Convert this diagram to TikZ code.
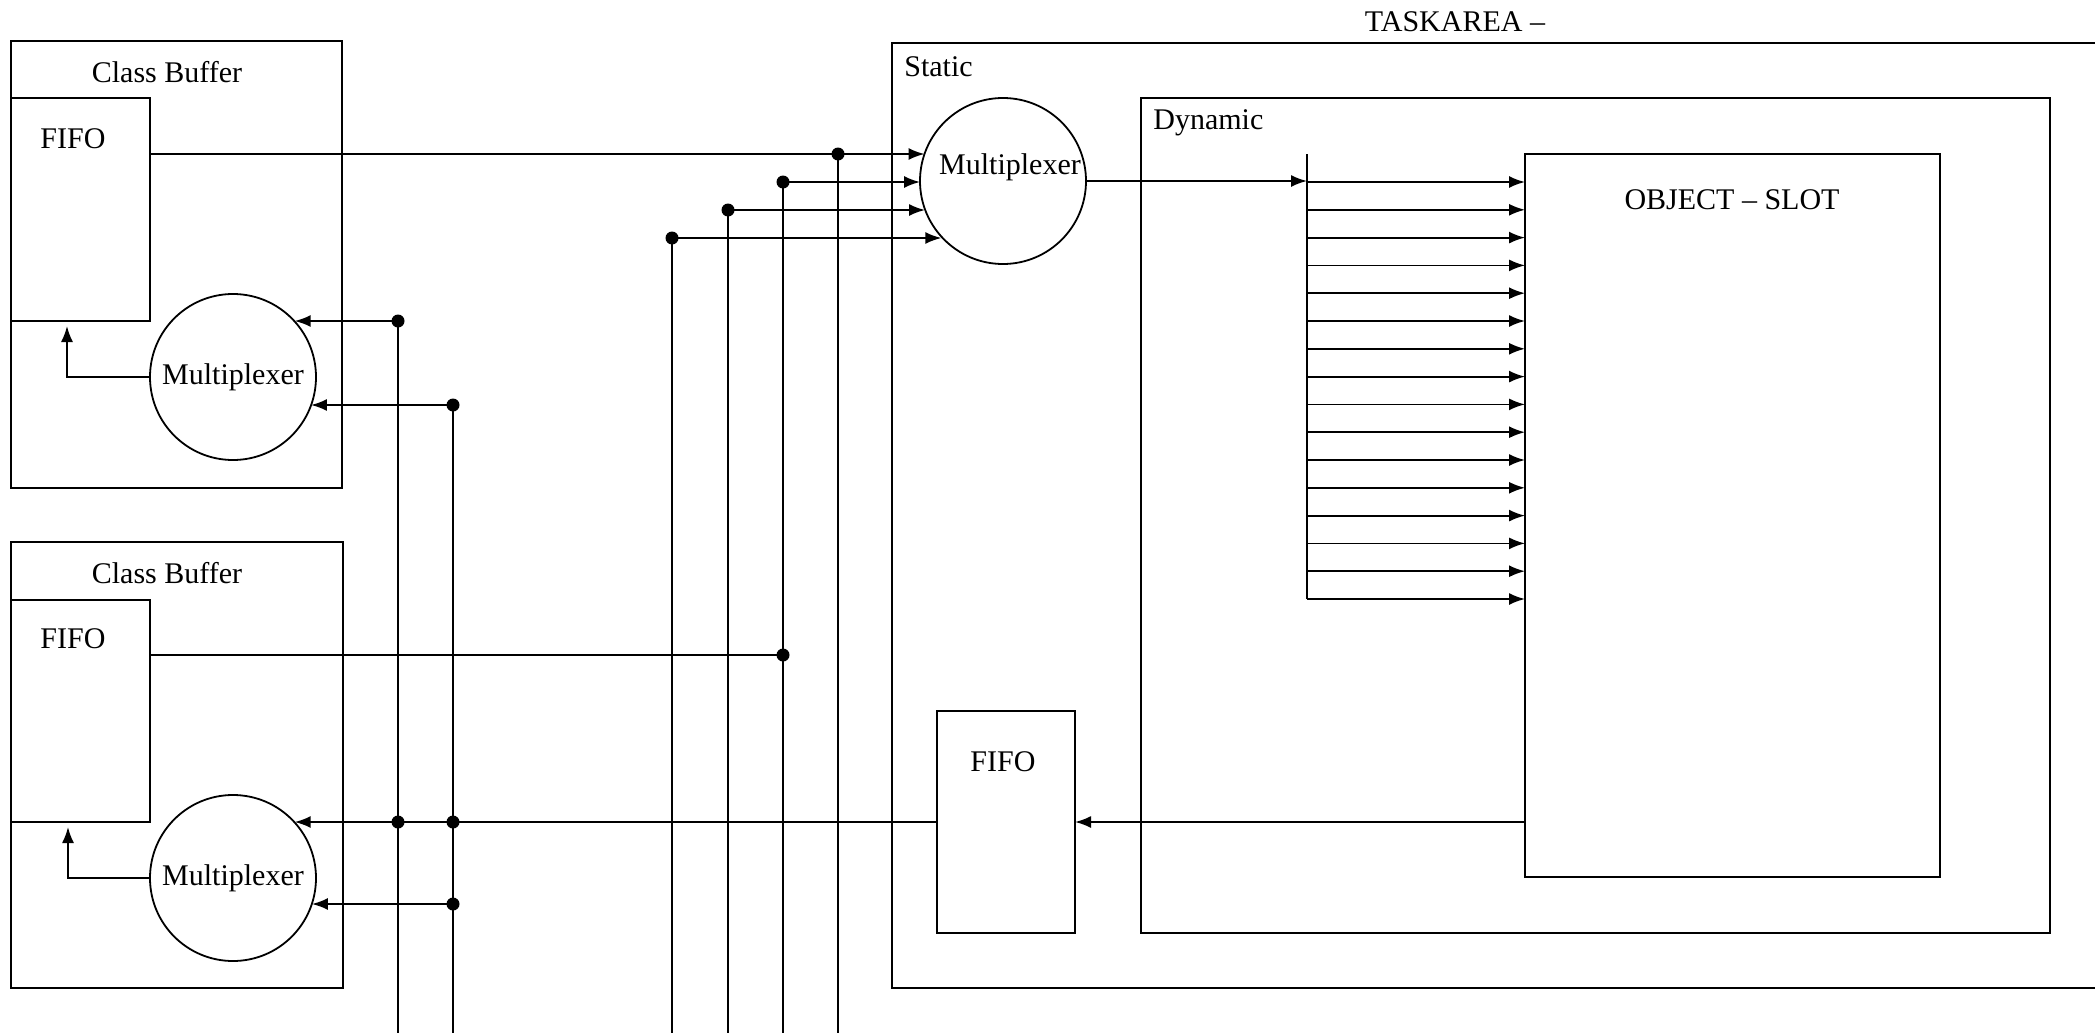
\documentclass[tikz,border=0pt]{standalone}
\usepackage{fontspec}
\setmainfont{Liberation Serif}
\usetikzlibrary{arrows.meta}
\begin{document}
\begin{tikzpicture}[x=0.5pt,y=-0.5pt,
  every node/.style={font=\fontsize{15pt}{18pt}\selectfont},
  box/.style={draw,line width=0.9pt,rectangle,anchor=north west,inner sep=0pt,outer sep=0pt},
  muxc/.style={draw,line width=0.9pt,circle,minimum size=83pt,inner sep=0pt,outer sep=0pt},
  dotn/.style={circle,fill=black,inner sep=0pt,minimum size=6.5pt},
  ln/.style={line width=0.9pt},
  arr/.style={line width=0.9pt,-{Latex[length=8pt,width=6pt]}},
  txt/.style={inner sep=0pt}]
\useasboundingbox[fill=white] (0,0) rectangle (2095,1033);
% boxes
\node[box,minimum width=165.5pt,minimum height=223.5pt] (cb1) at (11,41) {};
\node[box,minimum width=69.5pt,minimum height=111.5pt] (fifo1) at (11,98) {};
\node[muxc] (mux1) at (233,377) {Multiplexer};
\node[box,minimum width=166pt,minimum height=223pt] (cb2) at (11,542) {};
\node[box,minimum width=69.5pt,minimum height=111pt] (fifo2) at (11,600) {};
\node[muxc] (mux2) at (233,878) {Multiplexer};
\node[box,minimum width=610pt,minimum height=472.5pt] (static) at (892,43) {};
\node[box,minimum width=454.5pt,minimum height=417.5pt] (dynamic) at (1141,98) {};
\node[box,minimum width=207.5pt,minimum height=361.5pt] (slot) at (1525,154) {};
\node[box,minimum width=69pt,minimum height=111pt] (sfifo) at (937,711) {};
\node[muxc] (smux) at (1003,181) {};
% labels
\node[txt] (lcb1) at (167,72) {Class Buffer};
\node[txt] (lf1) at (73,139) {FIFO};
\node[txt] (lcb2) at (167,573) {Class Buffer};
\node[txt] (lf2) at (73,639) {FIFO};
\node[txt] (ltask) at (1455,22) {TASKAREA –};
\node[txt,anchor=west] (lstatic) at (904,67) {Static};
\node[txt,anchor=west] (ldyn) at (1153,123) {Dynamic};
\node[txt] (lslot) at (1732,200) {OBJECT – SLOT};
\node[txt] (lsf) at (1003,762) {FIFO};
\node[txt] (lsmux) at (1010,167) {Multiplexer};
% junction dots
\node[dotn] (d1) at (838,154) {};
\node[dotn] (d2) at (783,182) {};
\node[dotn] (d3) at (728,210) {};
\node[dotn] (d4) at (672,238) {};
\node[dotn] (d5) at (783,655) {};
\node[dotn] (a1) at (398,321) {};
\node[dotn] (b1) at (453,405) {};
\node[dotn] (a2) at (398,822) {};
\node[dotn] (b2) at (453,822) {};
\node[dotn] (b3) at (453,904) {};
\coordinate (bot) at (0,1045);
\coordinate (o1) at (67,326);
\coordinate (o2) at (68,827);
\coordinate (busT) at (1307,154);
\coordinate (busB) at (1307,599);
% bus lines
\foreach \n in {d1,d2,d3,d4,a1,b1}{\draw[ln] (\n.center) -- (\n.center |- bot);}
% inputs to static multiplexer
\draw[arr] (fifo1.east |- d1) -- (d1 -| smux.161);
\draw[arr] (d2.center) -- (d2 -| smux.181);
\draw[arr] (d3.center) -- (d3 -| smux.200);
\draw[arr] (d4.center) -- (d4 -| smux.222);
% FIFO 2 output
\draw[ln] (fifo2.east |- d5) -- (d5.center);
% inputs to class-buffer multiplexers
\draw[arr] (a1.center) -- (a1 -| mux1.42);
\draw[arr] (b1.center) -- (b1 -| mux1.-20);
\draw[arr] (sfifo.west |- a2) -- (a2 -| mux2.42);
\draw[arr] (b3.center) -- (b3 -| mux2.-18);
% multiplexer outputs to FIFOs
\draw[arr] (mux1.west) -| (o1);
\draw[arr] (mux2.west) -| (o2);
% static multiplexer to bus
\draw[arr] (smux.east) -- (smux.east -| busT);
\draw[ln] (busT) -- (busB);
\foreach \k in {0,...,15}{
  \draw[arr] (1307,182+27.8*\k) coordinate (t) -- (t -| slot.west);
}
% object slot to static FIFO
\draw[arr] (slot.west |- a2) -- (sfifo.east |- a2);
\end{tikzpicture}
\end{document}
